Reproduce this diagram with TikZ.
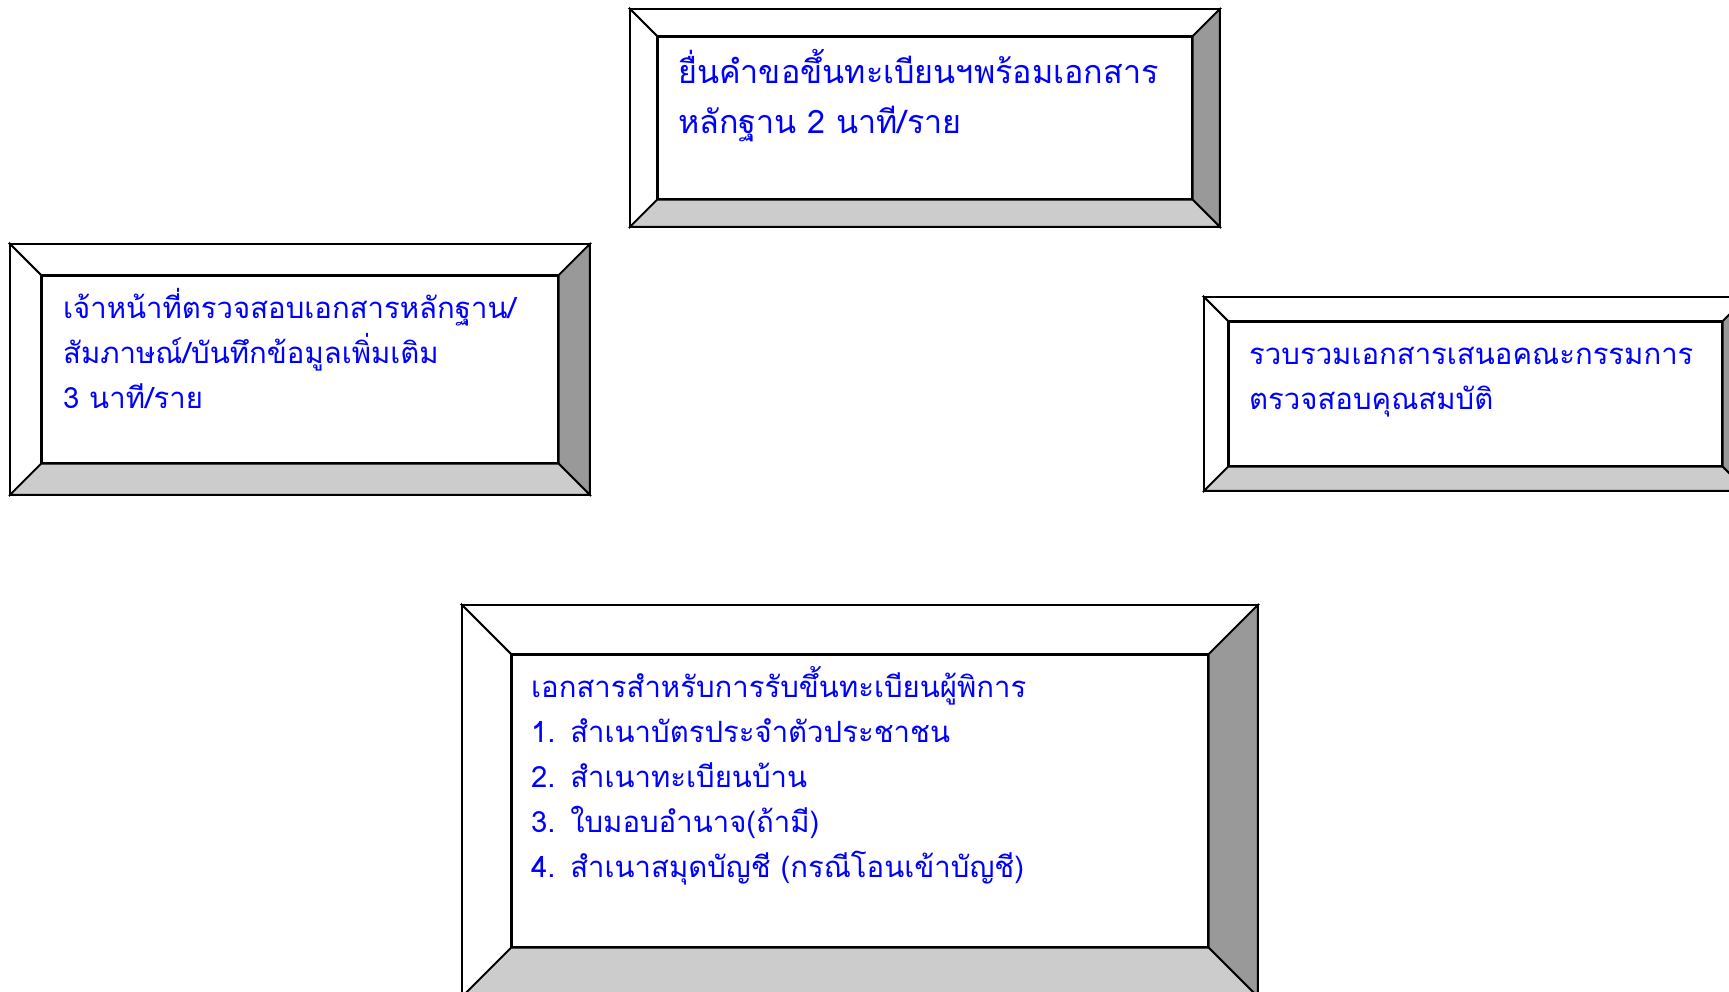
\documentclass[tikz,border=0pt]{standalone}
\usepackage{fontspec}
\newfontfamily\thaifont[Script=Thai]{Loma}
\usetikzlibrary{calc}

% bevel rim round an inner box node: #1 node name, #2 rim width
\newcommand{\bevel}[2]{%
  \coordinate (#1-onw) at ($(#1.north west)+(-#2,-#2)$);
  \coordinate (#1-one) at ($(#1.north east)+(#2,-#2)$);
  \coordinate (#1-osw) at ($(#1.south west)+(-#2,#2)$);
  \coordinate (#1-ose) at ($(#1.south east)+(#2,#2)$);
  \filldraw[rim,fill=white] (#1-onw) -- (#1-one) -- (#1.north east) -- (#1.north west) -- cycle;
  \filldraw[rim,fill=white] (#1-onw) -- (#1.north west) -- (#1.south west) -- (#1-osw) -- cycle;
  \filldraw[rim,fill=rimdark] (#1-one) -- (#1-ose) -- (#1.south east) -- (#1.north east) -- cycle;
  \filldraw[rim,fill=rimlight] (#1-osw) -- (#1.south west) -- (#1.south east) -- (#1-ose) -- cycle;
  \draw[rim] (#1-onw) rectangle (#1-ose);
}

\definecolor{rimdark}{gray}{0.6}
\definecolor{rimlight}{gray}{0.8}
\definecolor{textblue}{RGB}{0,0,255}

\begin{document}
\begin{tikzpicture}[x=1pt,y=-1pt,
  rim/.style={draw=black,line width=1.8pt,line join=miter},
  face/.style={draw=black,line width=1.8pt,fill=white,rectangle,inner sep=0pt,anchor=north west},
  boxtext/.style={text=textblue,anchor=base west,inner sep=0pt,align=left,text width=520pt,
    font=\thaifont\fontsize{29.3}{45}\selectfont},
  bigtext/.style={boxtext,font=\thaifont\fontsize{32.3}{50.5}\selectfont}]
  \useasboundingbox (0,0) rectangle (1729,992);
  \clip (0,0) rectangle (1729,992);

  \node[face,minimum width=534pt,minimum height=162pt] (submit) at (657,36) {};
  \bevel{submit}{27}
  \node[bigtext] (submitText) at (678,83.5)
    {ยื่นคำขอขึ้นทะเบียนฯพร้อมเอกสาร\\หลักฐาน 2 นาที/ราย};

  \node[face,minimum width=516pt,minimum height=187pt] (check) at (41,275) {};
  \bevel{check}{31}
  \node[boxtext] (checkText) at (63,318.5)
    {เจ้าหน้าที่ตรวจสอบเอกสารหลักฐาน/\\สัมภาษณ์/บันทึกข้อมูลเพิ่มเติม\\3 นาที/ราย};

  \node[face,minimum width=493pt,minimum height=144pt] (collect) at (1228,321) {};
  \bevel{collect}{24}
  \node[boxtext] (collectText) at (1249,364.5)
    {รวบรวมเอกสารเสนอคณะกรรมการ\\ตรวจสอบคุณสมบัติ};

  \node[face,minimum width=696pt,minimum height=292pt] (docs) at (511,654) {};
  \bevel{docs}{49}
  \node[boxtext] (docsText) at (531,697.5)
    {เอกสารสำหรับการรับขึ้นทะเบียนผู้พิการ\\1. สำเนาบัตรประจำตัวประชาชน\\2. สำเนาทะเบียนบ้าน\\3. ใบมอบอำนาจ(ถ้ามี)\\4. สำเนาสมุดบัญชี (กรณีโอนเข้าบัญชี)};
\end{tikzpicture}
\end{document}
